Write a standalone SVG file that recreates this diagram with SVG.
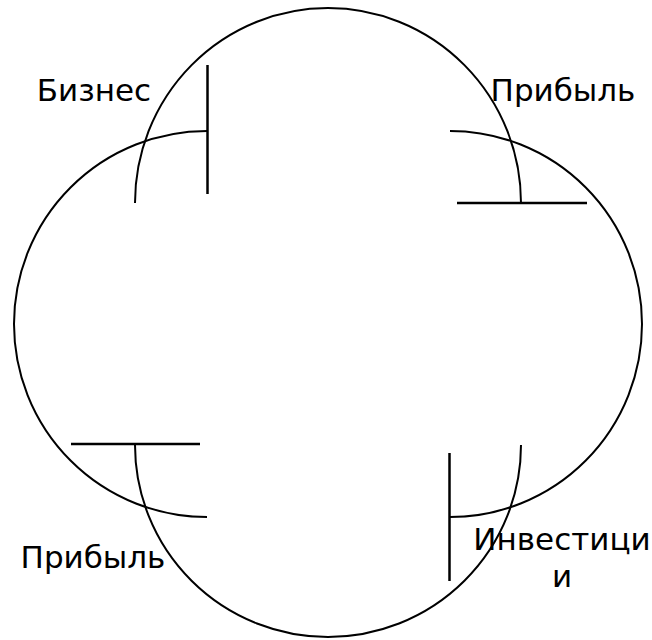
<svg xmlns="http://www.w3.org/2000/svg" width="652" height="640" viewBox="0 0 652 640">
<style>
.arc{fill:none;stroke:#000;stroke-width:2}
.bar{fill:none;stroke:#000;stroke-width:2.5}
.lbl{font-family:"DejaVu Sans",Verdana,sans-serif;font-size:31px;fill:#000;text-anchor:middle}
</style>
<rect width="652" height="640" fill="#fff"/>
<g id="connectors">
<path class="arc" d="M135,203 A193,195 0 0 1 521,203"/>
<line class="bar" x1="457" y1="203" x2="587" y2="203"/>
<path class="arc" d="M450,131 A192,193 0 0 1 450,517"/>
<line class="bar" x1="449.5" y1="453" x2="449.5" y2="581"/>
<path class="arc" d="M521,445 A193,192 0 0 1 135,445"/>
<line class="bar" x1="71" y1="444" x2="200" y2="444"/>
<path class="arc" d="M207,517 A193,193 0 0 1 207,131"/>
<line class="bar" x1="207.5" y1="65" x2="207.5" y2="194"/>
</g>
<g id="node-biznes"><text class="lbl" x="94" y="101">Бизнес</text></g>
<g id="node-pribyl-top"><text class="lbl" x="563" y="101">Прибыль</text></g>
<g id="node-investicii"><text class="lbl" x="562" y="550">Инвестици</text><text class="lbl" x="562" y="587">и</text></g>
<g id="node-pribyl-bottom"><text class="lbl" x="93" y="568">Прибыль</text></g>
</svg>
